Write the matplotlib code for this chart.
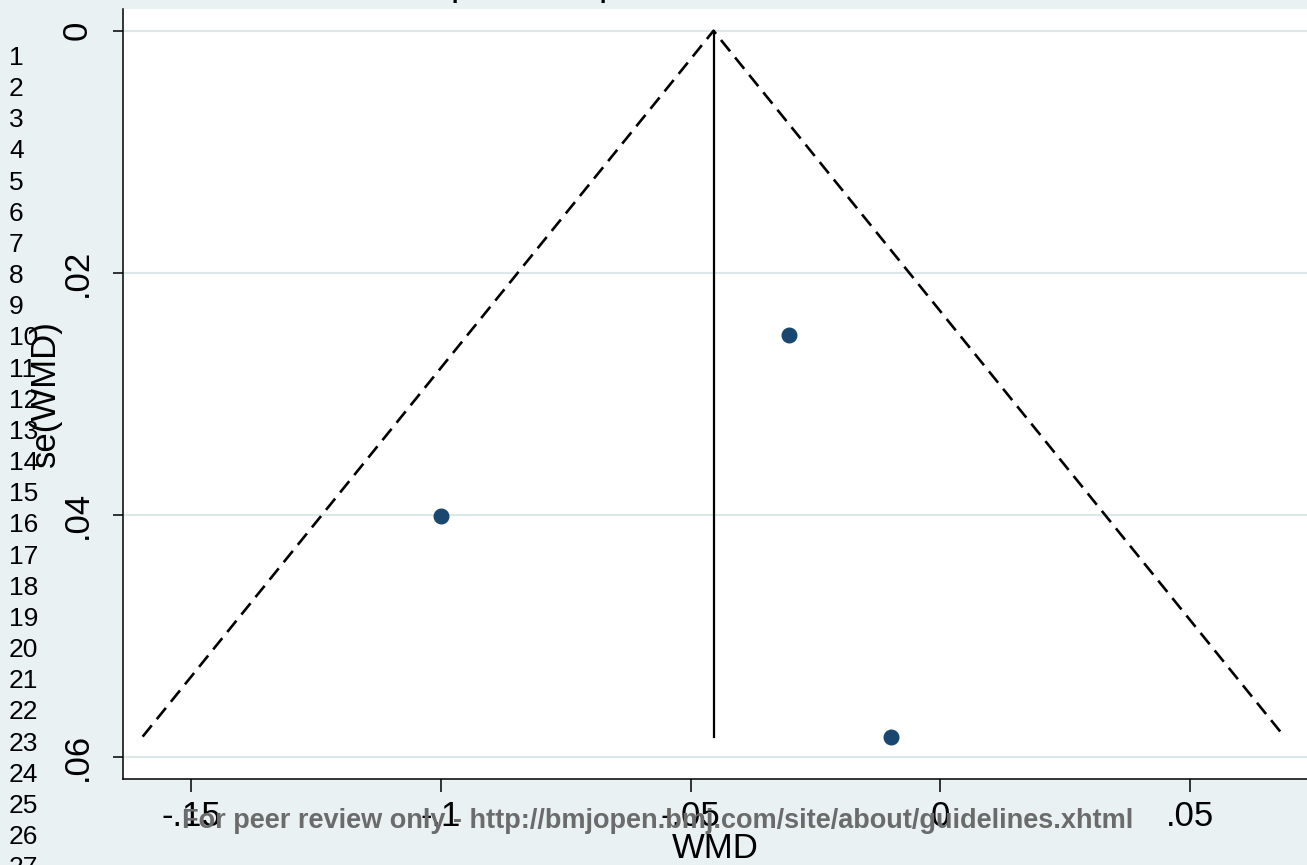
import matplotlib
matplotlib.use('Agg')
import matplotlib.pyplot as plt

# study estimates
wmd = [-0.100, -0.0302, -0.0099]
se_wmd = [0.0401, 0.0251, 0.0583]
pooled = -0.0454
se_max = 0.0583

xticks = [-0.15, -0.10, -0.05, 0.0, 0.05]
xtick_labels = ['-.15', '-.1', '-.05', '0', '.05']
yticks = [0.0, 0.02, 0.04, 0.06]
ytick_labels = ['0', '.02', '.04', '.06']

line_numbers = [str(n) for n in range(1, 28)]

title = 'Funnel plot with pseudo 95% confidence limits'
watermark = 'For peer review only - http://bmjopen.bmj.com/site/about/guidelines.xhtml'

BG = '#EAF1F3'
GRID = '#DCE7EA'
NAVY = '#1A476F'
W, H = 1307, 865

plt.rcParams['font.family'] = ['Liberation Sans', 'DejaVu Sans']

fig = plt.figure(figsize=(W / 100, H / 100), dpi=100)
fig.patch.set_facecolor(BG)

ax = fig.add_axes([123 / W, 1 - 779 / H, 1 - 123 / W, (779 - 9) / H])
ax.set_facecolor('white')

# pseudo 95% confidence limits
z = 1.96
ax.plot([pooled - z * se_max, pooled, pooled + z * se_max], [se_max, 0, se_max],
        color='black', lw=1.9, ls=(0, (5.5, 3.0)), zorder=3)
ax.plot([pooled, pooled], [0, se_max], color='black', lw=1.6, zorder=3)

ax.plot(wmd, se_wmd, 'o', color=NAVY, markersize=10.5, zorder=4)

ax.set_xlim(-0.1636, 0.0734)
ax.set_ylim(0.0618, -0.0018)

ax.set_yticks(yticks)
ax.set_yticklabels(ytick_labels, rotation=90, va='center')
ax.set_xticks(xticks)
ax.set_xticklabels(xtick_labels)
ax.grid(axis='y', color=GRID, lw=1.5, zorder=0)
ax.grid(axis='x', visible=False)

for side in ['top', 'right']:
    ax.spines[side].set_visible(False)
for side in ['left', 'bottom']:
    ax.spines[side].set_linewidth(1.1)

ax.tick_params(axis='y', length=7, width=1.1, pad=14, labelsize=25)
ax.tick_params(axis='x', length=9, width=1.1, pad=6, labelsize=25)

fig.text(45 / W, 1 - 394 / H, 'se(WMD)', rotation=90, ha='center', va='center', fontsize=25)
fig.text(715 / W, 1 - 848 / H, 'WMD', ha='center', va='center', fontsize=25)

# title sits above the crop, only the descenders show
fig.text(326 / W, 1 + 5 / H, title, ha='left', va='baseline', fontsize=27)

# manuscript line numbers down the margin
for i, lab in enumerate(line_numbers):
    fig.text(9 / W, 1 - (58 + i * 31.16) / H, lab, ha='left', va='center', fontsize=19)

fig.text(658 / W, 1 - 821 / H, watermark, ha='center', va='center',
         fontsize=19.5, fontweight='bold', color='#6B6B6B')

fig.savefig('out.png', dpi=100, facecolor=BG)
